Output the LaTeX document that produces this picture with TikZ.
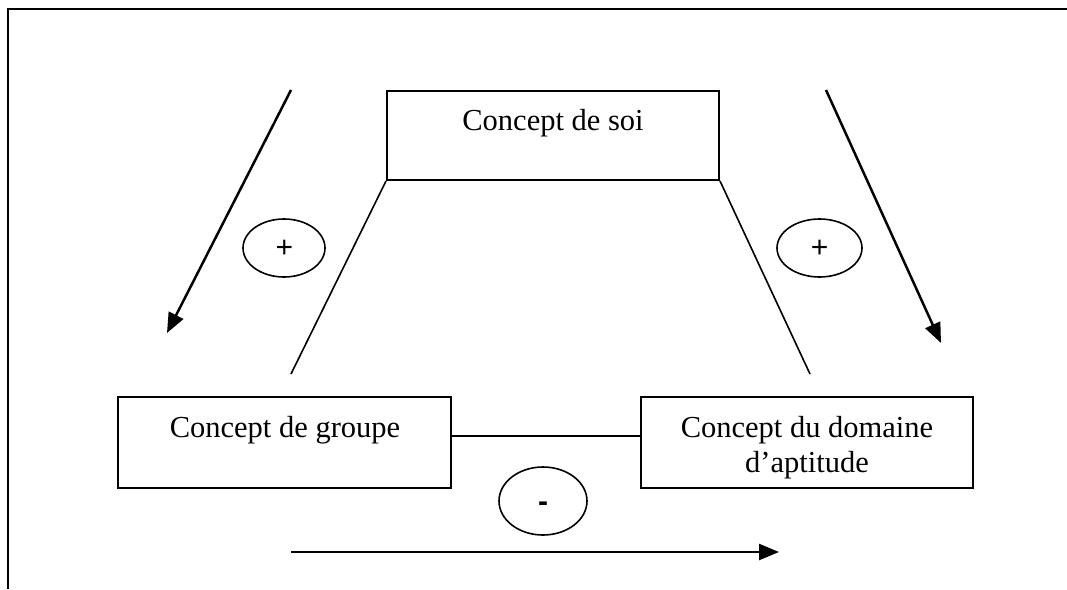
\documentclass[tikz,border=0pt]{standalone}
\usepackage{fontspec}
\setmainfont{Liberation Serif}
\newfontfamily\signfont{Liberation Sans}
\usetikzlibrary{arrows.meta,shapes.geometric}
\tikzset{
  conceptbox/.style={draw, line width=2pt, minimum width=332pt, minimum height=90pt, inner sep=0pt},
  conceptlabel/.style={font=\fontsize{30.5}{36}\selectfont, inner sep=0pt, align=center},
  signoval/.style={draw, ellipse, line width=1.6pt, inner sep=0pt},
  link/.style={line width=1.6pt},
  bigarrow/.style={line width=2.5pt, -{Triangle[length=20pt,width=16pt]}},
  frameline/.style={line width=2pt}
}
\begin{document}
\begin{tikzpicture}[x=1pt,y=-1pt]
\useasboundingbox (0,0) rectangle (1067,589);
% outer frame
\coordinate (f0) at (8,589);
\coordinate (f1) at (8,9);
\coordinate (f2) at (1067,9);
\draw[frameline] (f0) -- (f1) -- (f2);
% boxes
\node[conceptbox, minimum width=332pt, minimum height=89pt] (soi) at (553,135.5) {};
\node[conceptbox, minimum width=333pt, minimum height=91pt] (gb) at (284.5,442.5) {};
\node[conceptbox, minimum width=332pt, minimum height=91pt] (db) at (807,442.5) {};
\node[conceptlabel, anchor=base] (soit) at (553,130) {Concept de soi};
\node[conceptlabel, anchor=base] (gbt) at (285,437) {Concept de groupe};
\node[conceptlabel, anchor=base] (dbt1) at (807,437) {Concept du domaine};
\node[conceptlabel, anchor=base] (dbt2) at (807,472) {d’aptitude};
% links
\coordinate (mid) at (0,436);
\draw[link] (gb.east |- mid) -- (db.west |- mid);
\coordinate (ll) at (291,374);
\coordinate (rl) at (810,374);
\draw[link] (soi.south west) -- (ll);
\draw[link] (soi.south east) -- (rl);
% arrows
\coordinate (a1s) at (291,90);
\coordinate (a1e) at (167,333);
\coordinate (a2s) at (826,90);
\coordinate (a2e) at (941,343);
\coordinate (a3s) at (291,552);
\coordinate (a3e) at (779,552);
\draw[bigarrow] (a1s) -- (a1e);
\draw[bigarrow] (a2s) -- (a2e);
\draw[bigarrow] (a3s) -- (a3e);
% sign ovals
\node[signoval, minimum width=82pt, minimum height=58pt] (p1) at (284,248) {};
\node[signoval, minimum width=85pt, minimum height=58pt] (p2) at (819.5,248) {};
\node[signoval, minimum width=88pt, minimum height=68pt] (m1) at (543,501) {};
\node[font=\signfont\fontsize{30}{34}\selectfont, inner sep=0pt] (p1t) at (284.5,249) {+};
\node[font=\signfont\fontsize{30}{34}\selectfont, inner sep=0pt] (p2t) at (819.5,249) {+};
\node[font=\signfont\bfseries\fontsize{30}{34}\selectfont, inner sep=0pt] (m1t) at (543,507) {-};
\end{tikzpicture}
\end{document}
